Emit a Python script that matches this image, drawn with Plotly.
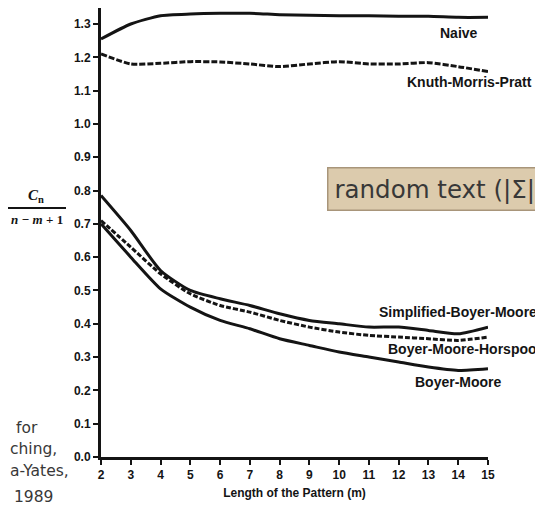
import plotly.graph_objects as go

# ---------------- data ----------------
pattern_length = [2, 3, 4, 5, 6, 7, 8, 9, 10, 11, 12, 13, 14, 15]
naive = [1.255, 1.300, 1.325, 1.330, 1.332, 1.332, 1.328, 1.326, 1.325, 1.325, 1.323, 1.323, 1.320, 1.320]
kmp = [1.210, 1.180, 1.182, 1.187, 1.186, 1.180, 1.172, 1.180, 1.187, 1.180, 1.180, 1.184, 1.172, 1.157]
simplified_bm = [0.785, 0.680, 0.560, 0.500, 0.475, 0.455, 0.430, 0.410, 0.400, 0.390, 0.390, 0.380, 0.370, 0.390]
bm_horspool = [0.710, 0.630, 0.550, 0.490, 0.455, 0.435, 0.410, 0.390, 0.375, 0.365, 0.360, 0.355, 0.350, 0.360]
boyer_moore = [0.700, 0.600, 0.505, 0.450, 0.410, 0.385, 0.355, 0.335, 0.315, 0.300, 0.285, 0.270, 0.260, 0.265]

y_ticks = [0.0, 0.1, 0.2, 0.3, 0.4, 0.5, 0.6, 0.7, 0.8, 0.9, 1.0, 1.1, 1.2, 1.3]
series_names = ["Naive", "Knuth-Morris-Pratt", "Simplified-Boyer-Moore", "Boyer-Moore-Horspool", "Boyer-Moore"]

# ---------------- layout geometry ----------------
# The page body has an 8px default margin, so the figure is sized to fit the
# 543x506 window and positions below are given in window pixels.
OFF = 8
W, H = 543 - OFF, 506 - OFF
L, R, T, B = 101, 488, 8, 457  # plot area in window pixels


def px(x):
    return (x - L) / (R - L)


def py(y):
    return (B - y) / (B - T)


INK = "#141414"
label_font = dict(family="Liberation Sans Narrow, Liberation Sans, Arial, sans-serif", size=14, color=INK)
tick_font = dict(family="Liberation Sans, Arial, sans-serif", size=12, color=INK)
slide_font = "DejaVu Sans, Verdana, sans-serif"

fig = go.Figure()
styles = [
    (naive, "solid"),
    (kmp, "6px,2px"),
    (simplified_bm, "solid"),
    (bm_horspool, "5px,2px"),
    (boyer_moore, "solid"),
]
for name, (vals, dash) in zip(series_names, styles):
    fig.add_trace(go.Scatter(
        x=pattern_length, y=vals, mode="lines", name=name,
        line=dict(color=INK, width=3, dash=dash, shape="spline", smoothing=0.6),
        showlegend=False,
    ))

annotations = []
# series labels (positioned in pixels)
for text, x, y, anchor in [
    ("<b>Naive</b>", 480, 33, "right"),
    ("<b>Knuth-Morris-Pratt</b>", 405, 82, "left"),
    ("<b>Simplified-Boyer-Moore</b>", 377, 312, "left"),
    ("<b>Boyer-Moore-Horspool</b>", 386, 349, "left"),
    ("<b>Boyer-Moore</b>", 413, 382, "left"),
]:
    annotations.append(dict(text=text, x=px(x), y=py(y), xref="paper", yref="paper",
                            xanchor=anchor, yanchor="middle", showarrow=False, font=label_font))

# y-axis title as a fraction
annotations.append(dict(text="<b><i>C</i><sub>n</sub></b>", x=px(36), y=py(196), xref="paper", yref="paper",
                        xanchor="center", yanchor="middle", showarrow=False,
                        font=dict(family="Liberation Serif, serif", size=15, color=INK)))
annotations.append(dict(text="<b><i>n − m</i> + 1</b>", x=px(37), y=py(219), xref="paper", yref="paper",
                        xanchor="center", yanchor="middle", showarrow=False,
                        font=dict(family="Liberation Serif, serif", size=13, color=INK)))

# overlay box from the slide
annotations.append(dict(text="random text (|Σ|", x=px(327), y=py(167), xref="paper", yref="paper",
                        xanchor="left", yanchor="top", showarrow=False, align="left",
                        font=dict(family=slide_font, size=24.5, color="#383838"),
                        bgcolor="#dccbad", bordercolor="#a8957a", borderwidth=1.5, borderpad=6))

# visible fragments of the slide's citation text at the left edge
for text, x, y, anchor in [
    ("for", 40, 428, "right"),
    ("ching,", 8, 449, "left"),
    ("a-Yates,", 8, 471, "left"),
    ("1989", 55, 497, "right"),
]:
    annotations.append(dict(text=text, x=px(x), y=py(y), xref="paper", yref="paper",
                            xanchor=anchor, yanchor="middle", showarrow=False,
                            font=dict(family=slide_font, size=15.5, color="#383838")))

fig.update_layout(
    width=W, height=H, autosize=False,
    margin=dict(l=L - OFF, r=543 - R, t=T - OFF, b=506 - B, pad=0),
    paper_bgcolor="white", plot_bgcolor="white",
    annotations=annotations,
    shapes=[dict(type="line", xref="paper", yref="paper", x0=px(8), x1=px(66), y0=py(208), y1=py(208),
                 line=dict(color=INK, width=2))],
    xaxis=dict(
        range=[2, 15], tickmode="array", tickvals=pattern_length,
        ticktext=["<b>%d</b>" % v for v in pattern_length],
        showgrid=False, zeroline=False, showline=True, linecolor=INK, linewidth=3,
        ticks="outside", ticklen=5, tickwidth=2, tickcolor=INK,
        tickfont=tick_font,
        title=dict(text="<b>Length of the Pattern (m)</b>", standoff=8,
                   font=dict(family="Liberation Sans, Arial, sans-serif", size=12, color=INK)),
    ),
    yaxis=dict(
        range=[0, 1.348], tickmode="array", tickvals=y_ticks,
        ticktext=["<b>%.1f</b>" % v for v in y_ticks],
        showgrid=False, zeroline=False, showline=True, linecolor=INK, linewidth=3,
        ticks="outside", ticklen=5, tickwidth=2, tickcolor=INK,
        tickfont=tick_font,
    ),
)

fig.write_html("out.html")
